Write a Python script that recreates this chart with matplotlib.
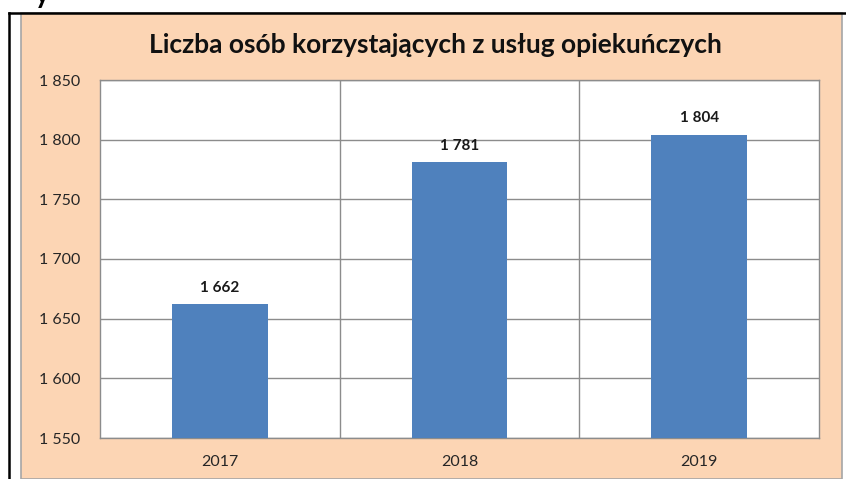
import matplotlib.pyplot as plt
from matplotlib.patches import Rectangle
from matplotlib.lines import Line2D
from matplotlib.ticker import FuncFormatter, MultipleLocator

plt.rcParams['font.family'] = ['Lato', 'DejaVu Sans']

# Dane
lata = ['2017', '2018', '2019']
liczba_osob = [1662, 1781, 1804]
tytul = 'Liczba osób korzystających z usług opiekuńczych'


def z_spacja(v, pos=None):
    # separator tysięcy jako spacja, jak w Excelu
    return f'{int(v):,}'.replace(',', ' ')


fig = plt.figure(figsize=(8.46, 4.79), dpi=100)
W, H = 846, 479

# tło wykresu (brzoskwiniowe) z szarą ramką
fig.patches.append(Rectangle((21 / W, 0), (842 - 21) / W, (H - 13) / H,
                             transform=fig.transFigure, facecolor='#FCD5B4',
                             edgecolor='#A6A6A6', linewidth=1.2, zorder=-2))
# czarna ramka dokumentu
fig.lines.append(Line2D([8.5 / W, 8.5 / W], [0, (H - 12.5) / H], transform=fig.transFigure,
                        color='black', linewidth=1.8, zorder=-1))
fig.lines.append(Line2D([8.5 / W, 1], [(H - 12.5) / H, (H - 12.5) / H], transform=fig.transFigure,
                        color='black', linewidth=1.8, zorder=-1))
# ucięty fragment nagłówka nad ramką
fig.text(42 / W, (H - 3) / H, 'y', fontsize=20, fontweight='bold', ha='center', va='baseline')

ax = fig.add_axes([100 / W, (H - 438) / H, (819 - 100) / W, (438 - 80) / H])
ax.set_zorder(2)
ax.set_facecolor('white')

x = range(len(lata))
ax.bar(x, liczba_osob, width=0.4, color='#4F81BD', zorder=3)

for i, v in enumerate(liczba_osob):
    ax.annotate(z_spacja(v), (i, v), xytext=(0, 7), textcoords='offset points',
                ha='center', va='bottom', fontsize=11, fontweight='bold', color='#1a1a1a')

ax.set_ylim(1550, 1850)
ax.set_xlim(-0.5, len(lata) - 0.5)
ax.yaxis.set_major_locator(MultipleLocator(50))
ax.yaxis.set_major_formatter(FuncFormatter(z_spacja))
ax.set_xticks(list(x))
ax.set_xticklabels(lata)
ax.tick_params(axis='both', length=0, labelsize=11.5, colors='#262626')
ax.tick_params(axis='y', pad=14)
ax.tick_params(axis='x', pad=12)

ax.yaxis.grid(True, color='#8C8C8C', linewidth=1.0, zorder=1)
for b in [0.5, 1.5]:
    ax.axvline(b, color='#8C8C8C', linewidth=1.0, zorder=1)
for s in ax.spines.values():
    s.set_color('#8C8C8C')
    s.set_linewidth(1.0)

fig.text(435 / W, (H - 45) / H, tytul, fontsize=19, fontweight='bold',
         ha='center', va='center', color='#111111')

fig.savefig('out.png', dpi=100)
